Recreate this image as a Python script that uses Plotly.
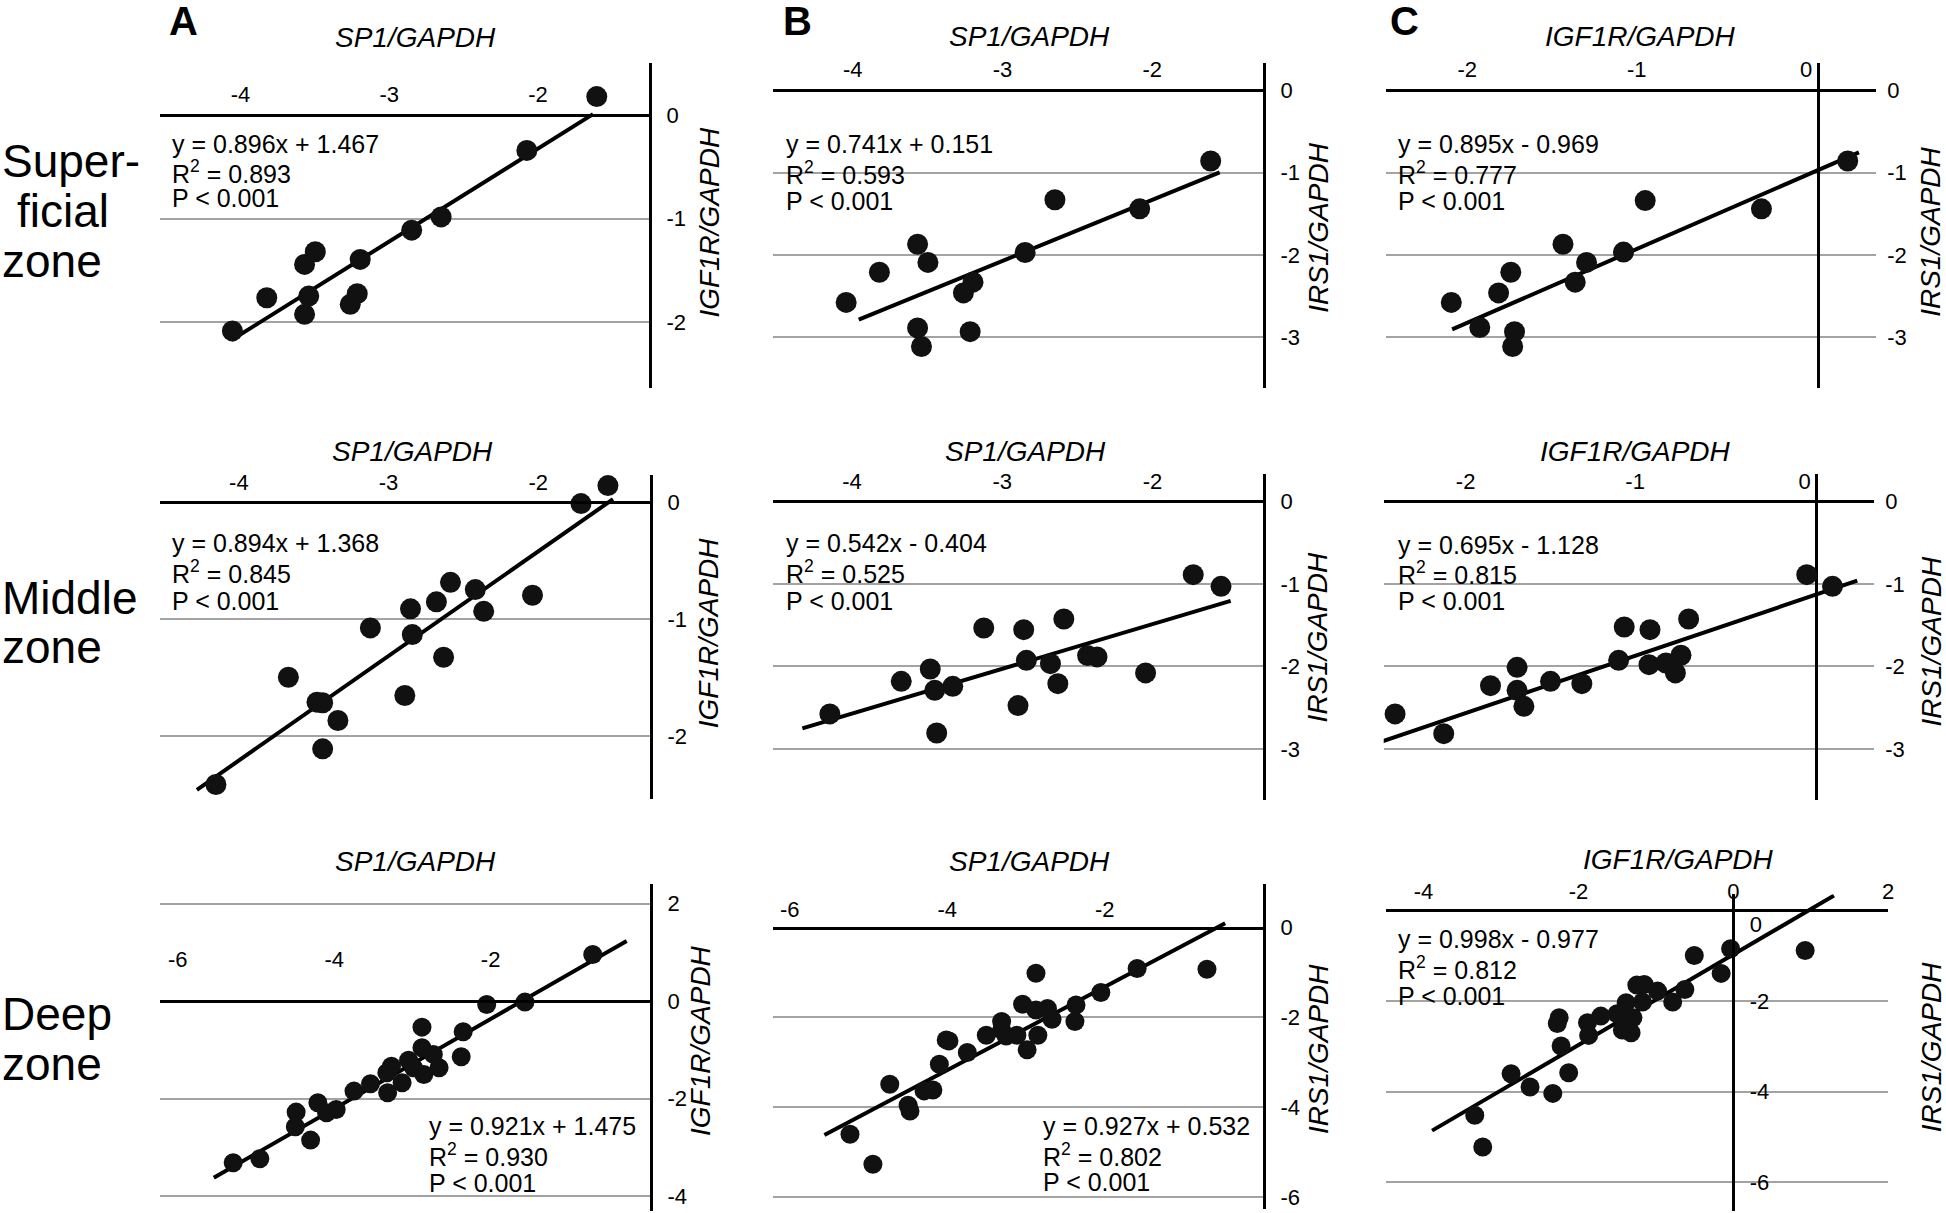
import plotly.graph_objects as go

W, H = 1946, 1213

# ---------------- data ----------------
panel_ids = ["A1", "B1", "C1", "A2", "B2", "C2", "A3", "B3", "C3"]
x_titles = ["SP1/GAPDH", "SP1/GAPDH", "IGF1R/GAPDH"] * 3
y_titles = ["IGF1R/GAPDH", "IRS1/GAPDH", "IRS1/GAPDH"] * 3
slopes = [0.896, 0.741, 0.895, 0.894, 0.542, 0.695, 0.921, 0.927, 0.998]
intercepts = [1.467, 0.151, -0.969, 1.368, -0.404, -1.128, 1.475, 0.532, -0.977]
r_squared = [0.893, 0.593, 0.777, 0.845, 0.525, 0.815, 0.930, 0.802, 0.812]
p_label = "P < 0.001"
row_labels = [["Super-", "ficial", "zone"], ["Middle", "zone"], ["Deep", "zone"]]
col_letters = ["A", "B", "C"]

a1_x = [-1.605, -2.075, -2.651, -2.849, -3.195, -3.497, -3.569, -3.541, -3.569, -3.823, -4.054, -3.215, -3.262]
a1_y = [0.176, -0.343, -0.984, -1.112, -1.394, -1.32, -1.442, -1.747, -1.923, -1.763, -2.083, -1.724, -1.827]
b1_x = [-1.61, -2.084, -2.65, -2.849, -3.197, -3.261, -3.567, -3.498, -3.822, -4.044, -3.567, -3.541, -3.216]
b1_y = [-0.86, -1.44, -1.33, -1.97, -2.33, -2.46, -1.87, -2.09, -2.21, -2.575, -2.885, -3.11, -2.93]
c1_x = [0.174, -0.335, -1.021, -1.149, -1.367, -1.434, -1.506, -1.814, -1.886, -2.165, -1.997, -1.792, -1.803]
c1_y = [-0.86, -1.44, -1.34, -1.965, -2.09, -2.33, -1.87, -2.21, -2.46, -2.575, -2.88, -2.93, -3.11]

a2_x = [-1.534, -1.714, -2.038, -2.42, -2.586, -2.68, -2.364, -2.853, -2.841, -3.121, -2.632, -2.891,
        -3.669, -3.478, -3.44, -3.338, -3.44, -4.153]
a2_y = [0.143, -0.011, -0.795, -0.746, -0.684, -0.851, -0.932, -0.911, -1.131, -1.074, -1.325, -1.652,
        -1.496, -1.709, -1.715, -1.866, -2.108, -2.413]
b2_x = [-1.729, -1.544, -2.59, -3.123, -2.857, -2.839, -2.679, -2.432, -2.369, -2.046, -2.63, -3.479,
        -3.672, -3.449, -3.329, -2.895, -4.147, -3.436]
b2_y = [-0.889, -1.03, -1.426, -1.535, -1.555, -1.927, -1.967, -1.87, -1.886, -2.08, -2.21, -2.032,
        -2.182, -2.291, -2.242, -2.476, -2.577, -2.808]
c2_x = [-0.058, 0.094, -0.755, -1.135, -0.983, -1.168, -0.989, -0.889, -0.8, -0.833, -1.767, -1.924,
        -1.767, -1.57, -1.385, -1.727, -2.487, -2.2]
c2_y = [-0.889, -1.03, -1.426, -1.523, -1.555, -1.927, -1.98, -1.96, -1.866, -2.08, -2.012, -2.234,
        -2.291, -2.182, -2.21, -2.485, -2.577, -2.816]

a3_x = [-0.694, -1.561, -2.05, -2.351, -2.376, -2.878, -2.878, -2.732, -2.659, -2.854, -3.049, -2.986,
        -3.268, -3.327, -3.132, -3.536, -3.317, -3.747, -4.209, -3.975, -4.098, -4.487, -4.497, -4.302,
        -4.951, -5.292]
a3_y = [0.959, -0.02, -0.068, -0.629, -1.142, -0.534, -0.957, -1.094, -1.368, -1.505, -1.212, -1.368,
        -1.335, -1.47, -1.676, -1.696, -1.881, -1.848, -2.086, -2.224, -2.292, -2.279, -2.579, -2.854,
        -3.236, -3.318]
b3_x = [-0.701, -1.588, -2.049, -2.364, -2.378, -2.873, -3.043, -2.873, -2.727, -2.669, -2.849, -2.985,
        -3.116, -3.309, -3.309, -3.251, -3.504, -3.745, -3.978, -4.013, -4.1, -4.73, -4.182, -4.294,
        -4.497, -4.473, -5.235, -4.944]
b3_y = [-0.929, -0.913, -1.448, -1.724, -2.094, -1.018, -1.708, -1.835, -1.804, -2.042, -2.399, -2.725,
        -2.399, -2.094, -2.281, -2.414, -2.399, -2.784, -2.525, -2.503, -3.045, -3.49, -3.617, -3.639,
        -3.958, -4.085, -4.603, -5.272]
c3_x = [0.928, -0.035, -0.504, -0.157, -0.626, -0.783, -0.978, -1.15, -1.246, -1.173, -1.384, -1.296,
        -1.501, -1.433, -1.32, -1.711, -1.883, -1.868, -2.249, -2.273, -2.224, -2.126, -2.87, -2.625,
        -2.331, -3.339, -3.236]
c3_y = [-0.888, -0.851, -0.998, -1.394, -1.747, -2.026, -1.784, -1.637, -1.652, -2.026, -2.04, -2.37,
        -2.282, -2.643, -2.7, -2.335, -2.48, -2.76, -2.37, -2.496, -2.996, -3.582, -3.604, -3.899,
        -4.038, -4.522, -5.22]

# x extent of each fitted trend line
fit_x = [[-4.06, -1.63], [-3.96, -1.55], [-2.16, 0.24],
         [-4.28, -1.50], [-4.33, -1.48], [-2.62, 0.24],
         [-5.54, -0.26], [-5.56, -0.47], [-3.89, 1.30]]

xs = [a1_x, b1_x, c1_x, a2_x, b2_x, c2_x, a3_x, b3_x, c3_x]
ys = [a1_y, b1_y, c1_y, a2_y, b2_y, c2_y, a3_y, b3_y, c3_y]

x_ranges = [[-4.544, -1.254], [-4.535, -1.26], [-2.552, 0.342],
            [-4.53, -1.253], [-4.528, -1.264], [-2.554, 0.34],
            [-6.234, 0.038], [-6.218, 0.012], [-4.489, 2.0]]
y_ranges = [[-2.63, 0.50], [-3.61, 0.33], [-3.61, 0.33],
            [-2.54, 0.237], [-3.624, 0.336], [-3.624, 0.336],
            [-4.31, 2.40], [-6.27, 0.964], [-6.63, 0.35]]
x_ticks = [[-4, -3, -2], [-4, -3, -2], [-2, -1, 0],
           [-4, -3, -2], [-4, -3, -2], [-2, -1, 0],
           [-6, -4, -2], [-6, -4, -2], [-4, -2, 0, 2]]
y_ticks = [[-2, -1, 0], [-3, -2, -1, 0], [-3, -2, -1, 0],
           [-2, -1, 0], [-3, -2, -1, 0], [-3, -2, -1, 0],
           [-4, -2, 0, 2], [-6, -4, -2, 0], [-6, -4, -2, 0]]

# ---------------- layout (pixel boxes) ----------------
dom_px_x = [(160, 651), (775, 1267), (1390, 1882),
            (160, 652), (775, 1267), (1388, 1880),
            (160, 652), (775, 1267), (1390, 1894)]
dom_px_y = [(63, 388), (63, 388), (63, 388),
            (475, 800), (474, 801), (474, 801),
            (885, 1212), (885, 1210), (895, 1212)]
xlab_standoff = [3, 3, 3, 3, 3, 3, 24, 1, 1]
xlab_shift = [0, 0, -12, 0, 0, -12, 0, 0, 0]
eq_pos = [(171, [144, 172, 198]), (786, [144, 173, 201]), (1400, [144, 173, 201]),
          (171, [543, 572, 601]), (786, [543, 572, 601]), (1400, [545, 573, 601]),
          (428, [1127, 1156, 1184]), (1044, [1127, 1156, 1183]), (1400, [940, 969, 997])]
xtitle_pos = [(417, 38), (1033, 37), (1646, 37),
              (414, 452), (1029, 452), (1641, 452),
              (417, 862), (1033, 862), (1684, 860)]
ytitle_pos = [(712, 222), (1323, 228), (1937, 232),
              (711, 633), (1322, 638), (1937, 642),
              (702, 1041), (1322, 1050), (1937, 1048)]
letter_pos = [(184, 21), (800, 21), (1409, 21)]
row_label_pos = [[(0, 161), (15, 211), (0, 261)], [(0, 598), (0, 648)], [(0, 1015), (0, 1065)]]

FONT = "Arial, Liberation Sans, Helvetica, sans-serif"
GRID = "#a3a3a3"


def pxx(v):
    return v / W


def pxy(v):
    return 1 - v / H


fig = go.Figure()
layout = dict(width=W, height=H, margin=dict(l=0, r=0, t=0, b=0),
              paper_bgcolor="white", plot_bgcolor="white", showlegend=False,
              font=dict(family=FONT, color="black"))
annotations = []

for i, pid in enumerate(panel_ids):
    n = "" if i == 0 else str(i + 1)
    col = i % 3
    row = i // 3
    xd = [pxx(dom_px_x[i][0]), pxx(dom_px_x[i][1])]
    yd = [pxy(dom_px_y[i][1]), pxy(dom_px_y[i][0])]
    xr, yr = x_ranges[i], y_ranges[i]
    # paper position of data y = 0 and x = 0
    y0_paper = yd[0] + (0 - yr[0]) / (yr[1] - yr[0]) * (yd[1] - yd[0])
    x0_paper = xd[0] + (0 - xr[0]) / (xr[1] - xr[0]) * (xd[1] - xd[0])

    is_c = col == 2
    is_c3 = i == 8

    layout["xaxis" + n] = dict(
        domain=xd, range=xr, side="top", anchor="free", position=y0_paper,
        showline=True, linecolor="black", linewidth=3, showgrid=False,
        zeroline=(is_c and not is_c3), zerolinecolor="black", zerolinewidth=3,
        tickvals=x_ticks[i], ticktext=[str(v) for v in x_ticks[i]], ticks="",
        tickfont=dict(size=22, color="black", family=FONT),
        ticklabelstandoff=xlab_standoff[i], ticklabelshift=xlab_shift[i],
        fixedrange=True)
    ytext = [str(v) for v in y_ticks[i]]
    if is_c3:
        # the zero label sits just below the horizontal axis line
        ytext = ["<br>" + t if t == "0" else t for t in ytext]
    ydict = dict(
        domain=yd, range=yr, side="right",
        showgrid=True, gridcolor=GRID, gridwidth=2, zeroline=False,
        tickvals=y_ticks[i], ticktext=ytext, ticks="",
        tickfont=dict(size=22, color="black", family=FONT),
        ticklabelstandoff=10, fixedrange=True)
    if is_c3:
        ydict.update(anchor="free", position=x0_paper, showline=True,
                     linecolor="black", linewidth=3)
    elif is_c:
        ydict.update(anchor="x" + n, showline=False)
    else:
        ydict.update(anchor="x" + n, showline=True, linecolor="black", linewidth=3)
    layout["yaxis" + n] = ydict

    # regression line
    fx = fit_x[i]
    fy = [slopes[i] * v + intercepts[i] for v in fx]
    fig.add_trace(go.Scatter(x=fx, y=fy, mode="lines", xaxis="x" + n, yaxis="y" + n,
                             line=dict(color="black", width=4), hoverinfo="skip"))
    # points
    msize = 21 if row < 2 else 19
    fig.add_trace(go.Scatter(x=xs[i], y=ys[i], mode="markers", xaxis="x" + n, yaxis="y" + n,
                             marker=dict(size=msize, color="#111111", line=dict(width=0)),
                             cliponaxis=False))

    # equation text
    b = intercepts[i]
    sign = "+" if b >= 0 else "-"
    lines = [f"y = {slopes[i]:.3f}x {sign} {abs(b):.3f}",
             f"R<sup>2</sup> = {r_squared[i]:.3f}",
             p_label]
    ex, eys = eq_pos[i]
    for t, ey in zip(lines, eys):
        annotations.append(dict(text=t, x=pxx(ex), y=pxy(ey), xref="paper", yref="paper",
                                xanchor="left", yanchor="middle", showarrow=False,
                                font=dict(size=25, color="black", family=FONT)))
    # axis titles
    tx, ty = xtitle_pos[i]
    annotations.append(dict(text=f"<i>{x_titles[i]}</i>", x=pxx(tx), y=pxy(ty),
                            xref="paper", yref="paper", xanchor="center", yanchor="middle",
                            showarrow=False, font=dict(size=28, color="black", family=FONT)))
    vx, vy = ytitle_pos[i]
    annotations.append(dict(text=f"<i>{y_titles[i]}</i>", x=pxx(vx), y=pxy(vy),
                            xref="paper", yref="paper", xanchor="center", yanchor="middle",
                            textangle=-90, showarrow=False,
                            font=dict(size=28, color="black", family=FONT)))

for letter, (lx, ly) in zip(col_letters, letter_pos):
    annotations.append(dict(text=f"<b>{letter}</b>", x=pxx(lx), y=pxy(ly), xref="paper",
                            yref="paper", xanchor="center", yanchor="middle", showarrow=False,
                            font=dict(size=40, color="black", family=FONT)))

for labels, positions in zip(row_labels, row_label_pos):
    for t, (rx, ry) in zip(labels, positions):
        annotations.append(dict(text=t, x=pxx(rx), y=pxy(ry), xref="paper", yref="paper",
                                xanchor="left", yanchor="middle", showarrow=False,
                                font=dict(size=46, color="black", family=FONT)))

layout["annotations"] = annotations
fig.update_layout(**layout)

fig.write_html("out.html", config={"displayModeBar": False},
               post_script="document.body.style.margin='0px';document.body.style.overflow='hidden';")
